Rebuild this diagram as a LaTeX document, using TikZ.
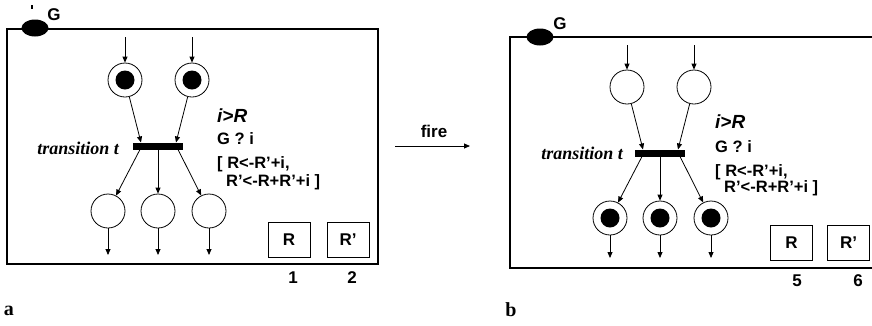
\documentclass[tikz,border=0pt]{standalone}
\usepackage{fontspec}
\setmainfont{Liberation Serif}
\setsansfont{Liberation Sans}
\usetikzlibrary{arrows.meta,shapes.geometric}
\tikzset{
  place/.style={circle,draw,line width=0.8pt,minimum size=34pt,inner sep=0pt},
  token/.style={circle,fill=black,minimum size=19pt,inner sep=0pt},
  tbar/.style={rectangle,fill=black,minimum width=50pt,minimum height=7pt,inner sep=0pt},
  arc/.style={line width=0.8pt,-{Triangle[length=6pt,width=5pt]}},
  frame/.style={line width=1.3pt},
  regbox/.style={rectangle,draw,line width=0.9pt,minimum width=42pt,minimum height=35pt,inner sep=0pt,font=\sffamily\bfseries\fontsize{17}{19}\selectfont},
  sanstext/.style={inner sep=0pt,anchor=west,font=\sffamily\bfseries\fontsize{16.5}{18}\selectfont},
  guardtext/.style={inner sep=0pt,anchor=west,font=\sffamily\bfseries\itshape\fontsize{19}{21}\selectfont},
  tlabel/.style={inner sep=0pt,anchor=east,font=\rmfamily\bfseries\itshape\fontsize{18}{20}\selectfont},
  numtext/.style={inner sep=0pt,font=\sffamily\bfseries\fontsize{17}{19}\selectfont},
  sublabel/.style={inner sep=0pt,font=\rmfamily\bfseries\fontsize{20}{22}\selectfont},
  gate/.style={ellipse,fill=black,minimum width=27pt,minimum height=17pt,inner sep=0pt},
}
\begin{document}
\begin{tikzpicture}[x=1pt,y=-1pt]
\useasboundingbox (0,0) rectangle (872,325);
% ---------- panel a ----------
\draw[frame] (7,29) rectangle (378,264);
\node[gate] (ga) at (35,28) {};
\node[numtext] (gla) at (54,15) {G};
\draw[line width=1.5pt] (32,5) -- (32,9);
\begin{scope}[name prefix=a-]
  \node[place] (p1) at (125,80) {};
  \node[place] (p2) at (192,80) {};
  \node[token] (p1t) at (p1) {};
  \node[token] (p2t) at (p2) {};
  \node[tbar] (t) at (158,146) {};
  \node[tlabel] (tl) at (119,148) {transition t};
  \node[place] (o1) at (108,211) {};
  \node[place] (o2) at (158,211) {};
  \node[place] (o3) at (209,211) {};
  \coordinate (s1) at (125,37);
  \coordinate (s2) at (192,37);
  \coordinate (a1) at (141,142.5);
  \coordinate (a2) at (176,142.5);
  \coordinate (b1) at (140,149.5);
  \coordinate (b2) at (158,149.5);
  \coordinate (b3) at (178,149.5);
  \coordinate (e1) at (108,255);
  \coordinate (e2) at (158,255);
  \coordinate (e3) at (209,255);
  \draw[arc] (s1) -- (p1);
  \draw[arc] (s2) -- (p2);
  \draw[arc] (p1) -- (a1);
  \draw[arc] (p2) -- (a2);
  \draw[arc] (b1) -- (o1);
  \draw[arc] (b2) -- (o2);
  \draw[arc] (b3) -- (o3);
  \draw[arc] (o1) -- (e1);
  \draw[arc] (o2) -- (e2);
  \draw[arc] (o3) -- (e3);
  \node[guardtext] (g1) at (217,116) {i>R};
  \node[sanstext] (g2) at (217,139) {G ? i};
  \node[sanstext] (g3) at (217,164) {[ R<-R'+i,};
  \node[sanstext] (g4) at (226,182) {R'<-R+R'+i ]};
\end{scope}
\node[regbox] (ra) at (289,239.5) {R};
\node[regbox] (rpa) at (348,239.5) {R'};
\node[numtext] (n1) at (293,278) {1};
\node[numtext] (n2) at (352,278) {2};
\node[sublabel] (la) at (9,311) {a};
% ---------- fire ----------
\coordinate (f1) at (395,146);
\coordinate (f2) at (470,146);
\draw[arc] (f1) -- (f2);
\node[numtext] (fire) at (434,131) {fire};
% ---------- panel b ----------
\draw[frame] (872,37) -- (510,37) -- (510,268) -- (872,268);
\node[gate] (gb) at (540,37) {};
\node[numtext] (glb) at (560,24) {G};
\begin{scope}[shift={(502,7)},name prefix=b-]
  \node[place] (p1) at (125,80) {};
  \node[place] (p2) at (192,80) {};
  \node[tbar] (t) at (158,146) {};
  \node[tlabel] (tl) at (121,146) {transition t};
  \node[place] (o1) at (108,211) {};
  \node[place] (o2) at (158,211) {};
  \node[place] (o3) at (209,211) {};
  \node[token] (o1t) at (o1) {};
  \node[token] (o2t) at (o2) {};
  \node[token] (o3t) at (o3) {};
  \coordinate (s1) at (125,38);
  \coordinate (s2) at (192,38);
  \coordinate (a1) at (141,142.5);
  \coordinate (a2) at (176,142.5);
  \coordinate (b1) at (140,149.5);
  \coordinate (b2) at (158,149.5);
  \coordinate (b3) at (178,149.5);
  \coordinate (e1) at (108,251);
  \coordinate (e2) at (158,251);
  \coordinate (e3) at (209,251);
  \draw[arc] (s1) -- (p1);
  \draw[arc] (s2) -- (p2);
  \draw[arc] (p1) -- (a1);
  \draw[arc] (p2) -- (a2);
  \draw[arc] (b1) -- (o1);
  \draw[arc] (b2) -- (o2);
  \draw[arc] (b3) -- (o3);
  \draw[arc] (o1) -- (e1);
  \draw[arc] (o2) -- (e2);
  \draw[arc] (o3) -- (e3);
  \node[guardtext] (g1) at (213,115) {i>R};
  \node[sanstext] (g2) at (213,140) {G ? i};
  \node[sanstext] (g3) at (213,165) {[ R<-R'+i,};
  \node[sanstext] (g4) at (222,181) {R'<-R+R'+i ]};
\end{scope}
\node[regbox] (rb) at (791.5,242.5) {R};
\node[regbox] (rpb) at (848.5,242.5) {R'};
\node[numtext] (n5) at (797,281) {5};
\node[numtext] (n6) at (858,281) {6};
\node[sublabel] (lb) at (511,310) {b};
\end{tikzpicture}
\end{document}
